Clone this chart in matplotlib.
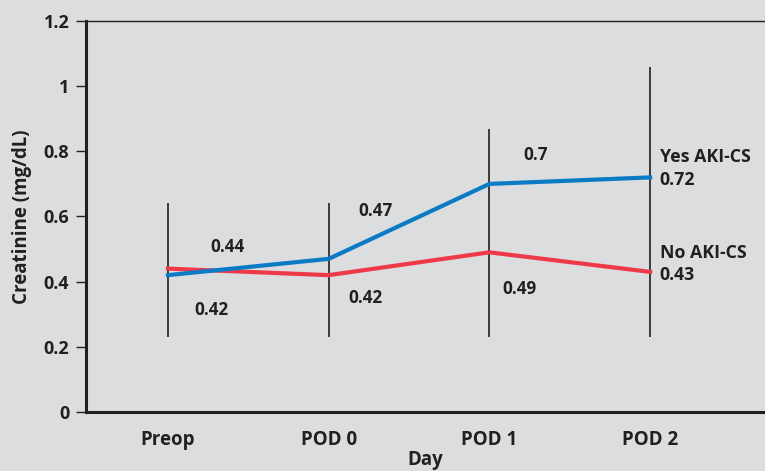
import matplotlib
matplotlib.use('Agg')
import matplotlib.pyplot as plt

# data
days = ['Preop', 'POD 0', 'POD 1', 'POD 2']
yes_aki = [0.42, 0.47, 0.70, 0.72]
no_aki = [0.44, 0.42, 0.49, 0.43]
range_low = [0.23, 0.23, 0.23, 0.23]
range_high = [0.64, 0.64, 0.87, 1.06]

bg = '#dcdddf'
blue = '#0a7bc4'
red = '#ee3a48'
ink = '#231f20'

plt.rcParams['font.family'] = ['Open Sans', 'DejaVu Sans']
plt.rcParams['font.weight'] = 'bold'
plt.rcParams['axes.labelweight'] = 'bold'

fig = plt.figure(figsize=(7.65, 4.71), dpi=100, facecolor=bg)
ax = fig.add_axes([0.1124, 0.1253, 0.8876, 0.8301])
ax.set_facecolor(bg)

x = list(range(len(days)))

# vertical range lines
ax.vlines(x, range_low, range_high, color=ink, lw=1.2, zorder=1)

ax.plot(x, no_aki, color=red, lw=3, zorder=2)
ax.plot(x, yes_aki, color=blue, lw=3, zorder=3)

# value labels
fs = 12.3
ax.text(0.37, 0.506, '%.2f' % no_aki[0], ha='center', va='center', fontsize=fs, color=ink)
ax.text(0.27, 0.313, '%.2f' % yes_aki[0], ha='center', va='center', fontsize=fs, color=ink)
ax.text(1.29, 0.617, '%.2f' % yes_aki[1], ha='center', va='center', fontsize=fs, color=ink)
ax.text(1.23, 0.35, '%.2f' % no_aki[1], ha='center', va='center', fontsize=fs, color=ink)
ax.text(2.29, 0.789, '%g' % yes_aki[2], ha='center', va='center', fontsize=fs, color=ink)
ax.text(2.19, 0.378, '%.2f' % no_aki[2], ha='center', va='center', fontsize=fs, color=ink)
ax.text(3.06, 0.783, 'Yes AKI-CS', ha='left', va='center', fontsize=12.8, color=ink)
ax.text(3.06, 0.712, '%.2f' % yes_aki[3], ha='left', va='center', fontsize=12.8, color=ink)
ax.text(3.06, 0.488, 'No AKI-CS', ha='left', va='center', fontsize=12.8, color=ink)
ax.text(3.06, 0.42, '%.2f' % no_aki[3], ha='left', va='center', fontsize=12.8, color=ink)

ax.set_xlim(-0.51, 3.715)
ax.set_ylim(0, 1.2)
ax.set_yticks([0, 0.2, 0.4, 0.6, 0.8, 1.0, 1.2])
ax.set_yticklabels(['0', '0.2', '0.4', '0.6', '0.8', '1', '1.2'])
ax.set_xticks(x)
ax.set_xticklabels(days)

ax.tick_params(axis='y', length=7, width=1, color=ink, labelsize=13, labelcolor=ink, pad=5)
ax.tick_params(axis='x', length=0, labelsize=13.5, labelcolor=ink, pad=13)

ax.spines['right'].set_visible(False)
ax.spines['top'].set_linewidth(1)
ax.spines['top'].set_color(ink)
ax.spines['left'].set_linewidth(2.2)
ax.spines['left'].set_color(ink)
ax.spines['bottom'].set_linewidth(2.2)
ax.spines['bottom'].set_color(ink)

ax.set_ylabel('Creatinine (mg/dL)', fontsize=13.5, color=ink, labelpad=8)
ax.set_xlabel('Day', fontsize=13.5, color=ink, labelpad=0)

fig.savefig('out.png', dpi=100, facecolor=bg)
